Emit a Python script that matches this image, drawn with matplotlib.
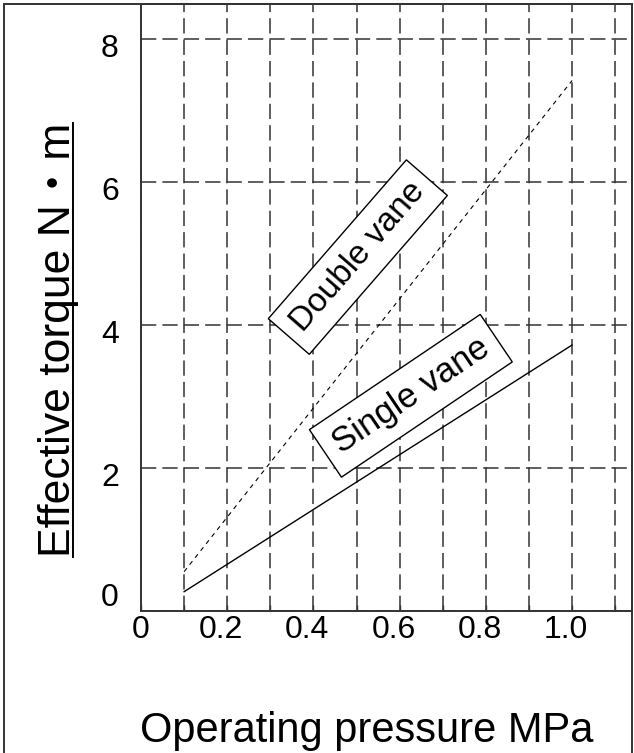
import matplotlib
matplotlib.use("Agg")
import matplotlib.pyplot as plt
from matplotlib import font_manager, transforms
from matplotlib.lines import Line2D
from matplotlib.patches import Rectangle

##############DATA#################
pressure      = [0.1, 1.0]
torque_single = [0.27, 3.72]
torque_double = [0.55, 7.42]

xticks       = [0.0, 0.1, 0.2, 0.3, 0.4, 0.5, 0.6, 0.7, 0.8, 0.9, 1.0, 1.1]
xtick_labels = ["0", "", "0.2", "", "0.4", "", "0.6", "", "0.8", "", "1.0", ""]
yticks       = [0, 2, 4, 6, 8]
ytick_labels = ["0", "2", "4", "6", "8"]

xlabel = "Operating pressure MPa"
ylabel = "Effective torque N\u30fbm"

##############FONTS#################
names = {f.name for f in font_manager.fontManager.ttflist}
if "Liberation Sans Narrow" in names:
    main_font = "Liberation Sans Narrow"
    tick_size, xlab_size, ylab_size, box_size, box_pad = 27, 36, 38, 31, 0.17
else:
    main_font = "Liberation Sans"
    tick_size, xlab_size, ylab_size, box_size, box_pad = 23, 30, 32, 24, 0.35
plt.rcParams["font.family"] = [main_font, "Noto Sans CJK JP"]

W, H = 634, 753
ink = "#333333"

##############FIGURE#################
fig = plt.figure(figsize=(W / 100, H / 100), dpi=100)
ax = fig.add_axes([141 / W, 142 / H, 491 / W, 607 / H])

ax.plot(pressure, torque_single, color="black", lw=1.0, zorder=3)
ax.plot(pressure, torque_double, color="black", lw=0.8, dashes=(4, 4), zorder=3)

ax.set_xlim(0, 1.139)
ax.set_ylim(0, 8.49)
ax.set_xticks(xticks)
ax.set_xticklabels(xtick_labels)
ax.set_yticks(yticks)
ax.set_yticklabels(ytick_labels)

ax.grid(True, color=ink, lw=1.1, linestyle=(0, (10, 4)))
ax.set_axisbelow(True)

ax.tick_params(axis="x", direction="in", length=4, width=1, color=ink,
               pad=3, labelsize=tick_size)
ax.tick_params(axis="y", length=0, pad=16, labelsize=tick_size)

for s in ax.spines.values():
    s.set_color(ink)
    s.set_linewidth(1.4)

# labels sit a little off their ticks in the original
for lbl in ax.get_xticklabels():
    if lbl.get_text() not in ("", "0"):
        lbl.set_transform(lbl.get_transform() +
                          transforms.ScaledTranslation(-6 / 100, 0, fig.dpi_scale_trans))
for lbl in ax.get_yticklabels():
    dy = 16 if lbl.get_text() == "0" else -6
    lbl.set_transform(lbl.get_transform() +
                      transforms.ScaledTranslation(0, dy / 100, fig.dpi_scale_trans))

box = dict(boxstyle=f"square,pad={box_pad}", fc="white", ec="black", lw=1.0)
ax.text(0.503, 4.95, "Double vane", rotation=49, rotation_mode="anchor",
        ha="center", va="center", fontsize=box_size, bbox=box, zorder=5)
ax.text(0.626, 3.01, "Single vane", rotation=34, rotation_mode="anchor",
        ha="center", va="center", fontsize=box_size + 1, bbox=box, zorder=5)

ax.set_xlabel(xlabel, fontsize=xlab_size, va="baseline")
ax.xaxis.set_label_coords((367 - 141) / 491, (611 - 742) / 607)
ax.set_ylabel(ylabel, fontsize=ylab_size, va="baseline")
ax.yaxis.set_label_coords((70 - 141) / 491, (611 - 340) / 607)

# outer frame
fig.add_artist(Rectangle((4 / W, -0.05), 628 / W, 749 / H + 0.05,
                         transform=fig.transFigure, fill=False, ec=ink, lw=1.4))

# underline under the y label
fig.canvas.draw()
bb = ax.yaxis.label.get_window_extent()
fig.add_artist(Line2D([73 / W, 73 / W], [bb.y0 / H, bb.y1 / H],
                      transform=fig.transFigure, color="black", lw=1.4))

fig.savefig("out.png", dpi=100)
